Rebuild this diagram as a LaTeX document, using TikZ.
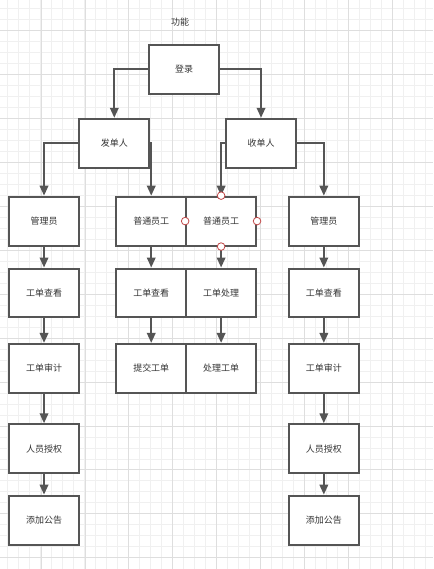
\documentclass[tikz,border=0pt]{standalone}
\usepackage{fontspec}
\newfontfamily\cjk{Noto Sans CJK SC}
\usetikzlibrary{arrows.meta}
\definecolor{edge}{HTML}{555555}
\definecolor{txt}{HTML}{333333}
\definecolor{minorgrid}{HTML}{F0F0F0}
\definecolor{majorgrid}{HTML}{DEDEDE}
\definecolor{hint}{HTML}{C04545}
\tikzset{
	box/.style={draw=edge, line width=2pt, fill=white, minimum width=70pt, minimum height=49pt, inner sep=0pt, font=\cjk\fontsize{9}{9}\selectfont, text=txt},
	conn/.style={draw=edge, line width=2pt, -{Triangle[length=10pt,width=8.5pt]}},
	hintdot/.style={draw=hint, line width=0.8pt, fill=white}
}

\begin{document}
\begin{tikzpicture}[x=1pt, y=-1pt]
	
	% background grid
	\fill[white] (0,0) rectangle (433,569);
	\foreach \gx in {7.3,18.3,...,433} \draw[minorgrid, line width=1pt] (\gx,0) -- (\gx,569);
	\foreach \gy in {8.3,19.3,...,569} \draw[minorgrid, line width=1pt] (0,\gy) -- (433,\gy);
	\foreach \gx in {40.7,84.7,...,433} \draw[majorgrid, line width=1pt] (\gx,0) -- (\gx,569);
	\foreach \gy in {30.3,74.3,...,569} \draw[majorgrid, line width=1pt] (0,\gy) -- (433,\gy);
	\useasboundingbox (0,0) rectangle (433,569);
	
	\node[font=\cjk\fontsize{9}{9}\selectfont, text=txt] (title) at (180,22) {功能};
	
	\node[box] (login) at (184,69) {登录};
	\node[box] (sender) at (114,143) {发单人};
	\node[box] (receiver) at (261,143) {收单人};
	
	% left column
	\node[box] (adminL) at (43.6,221) {管理员};
	\node[box] (viewL) at (43.6,293) {工单查看};
	\node[box] (auditL) at (43.6,368.5) {工单审计};
	\node[box] (grantL) at (43.6,449) {人员授权};
	\node[box] (noticeL) at (43.6,520.5) {添加公告};
	
	% middle
	\node[box] (staffA) at (151,221) {普通员工};
	\node[box] (staffB) at (221,221) {普通员工};
	\node[box] (viewM) at (151,293) {工单查看};
	\node[box] (handle) at (221,293) {工单处理};
	\node[box] (submit) at (151,368.5) {提交工单};
	\node[box] (process) at (221,368.5) {处理工单};
	
	% right column
	\node[box] (adminR) at (323.9,221) {管理员};
	\node[box] (viewR) at (323.9,293) {工单查看};
	\node[box] (auditR) at (323.9,368.5) {工单审计};
	\node[box] (grantR) at (323.9,449) {人员授权};
	\node[box] (noticeR) at (323.9,520.5) {添加公告};
	
	\draw[conn] (login.west) -| (sender.north);
	\draw[conn] (login.east) -| (receiver.north);
	\draw[conn] (sender.west) -| (adminL.north);
	\draw[conn] (sender.east) -| (staffA.north);
	\draw[conn] (receiver.west) -| (staffB.north);
	\draw[conn] (receiver.east) -| (adminR.north);
	
	\draw[conn] (adminL) -- (viewL);
	\draw[conn] (viewL) -- (auditL);
	\draw[conn] (auditL) -- (grantL);
	\draw[conn] (grantL) -- (noticeL);
	
	\draw[conn] (staffA) -- (viewM);
	\draw[conn] (viewM) -- (submit);
	\draw[conn] (staffB) -- (handle);
	\draw[conn] (handle) -- (process);
	
	\draw[conn] (adminR) -- (viewR);
	\draw[conn] (viewR) -- (auditR);
	\draw[conn] (auditR) -- (grantR);
	\draw[conn] (grantR) -- (noticeR);
	
	% connection points of the selected shape
	\foreach \side in {north,south,east,west}
		\draw[hintdot] (staffB.\side) circle (3.8);
	 
\end{tikzpicture}
\end{document}
